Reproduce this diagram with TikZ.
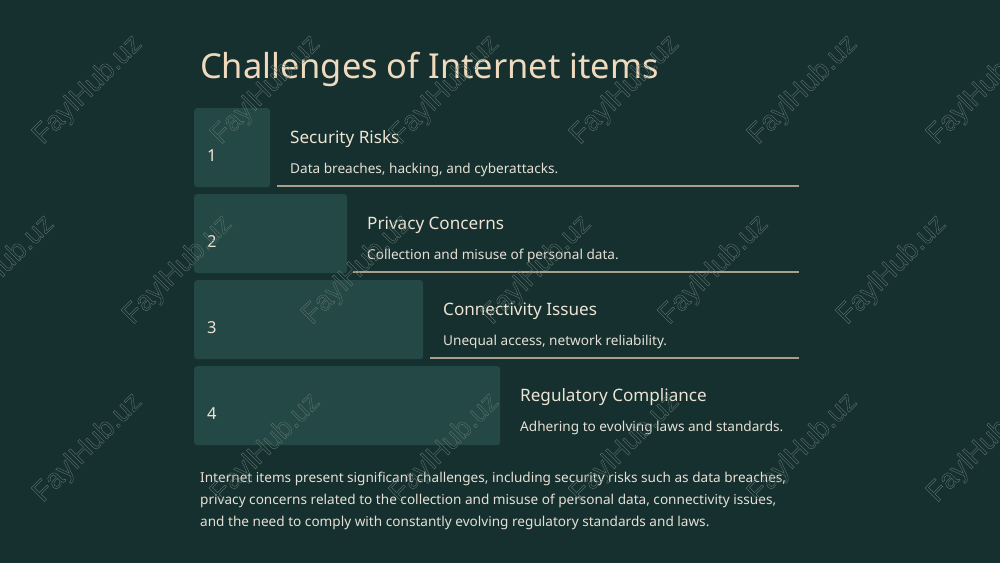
\documentclass[tikz,border=0pt]{standalone}
\usepackage{fontspec}
\setmainfont{Noto Sans}
\newfontfamily\wmfont{Liberation Sans}
\definecolor{bg}{HTML}{15302E}
\definecolor{boxc}{HTML}{234845}
\definecolor{titlec}{HTML}{F0DABE}
\definecolor{headc}{HTML}{EEE4D6}
\definecolor{textc}{HTML}{E6E0D6}
\definecolor{rulec}{HTML}{A89F8C}
\definecolor{wmc}{HTML}{647772}
\tikzset{
  numbox/.style={fill=boxc, rounded corners=3pt, anchor=north west, inner sep=0pt, minimum height=79pt},
  numtxt/.style={anchor=base west, inner sep=0pt, text=headc, font=\fontsize{16.5}{20}\selectfont},
  headtxt/.style={anchor=base west, inner sep=0pt, text=headc, font=\fontsize{17.1}{21}\selectfont},
  desctxt/.style={anchor=base west, inner sep=0pt, text=textc, font=\fontsize{13.6}{17}\selectfont},
  rowrule/.style={draw=rulec, line width=1.3pt},
  wmark/.style={rotate=45, inner sep=0pt, text=wmc, font=\wmfont\fontsize{28}{28}\selectfont}
}
\newcommand{\wmtext}{{\special{pdf:literal direct 1 Tr 0.35 w}FaylHub.uz\special{pdf:literal direct 0 Tr}}}
\begin{document}
\begin{tikzpicture}[x=1pt,y=-1pt]
\fill[bg] (0,0) rectangle (1000,563);
\useasboundingbox (0,0) rectangle (1000,563);

\node[anchor=base west, inner sep=0pt, text=titlec, font=\fontsize{34.4}{40}\selectfont] (title) at (200,78) {Challenges of Internet items};

% row 1
\node[numbox, minimum width=76pt] (b1) at (194,108) {};
\node[numtxt] (n1) at (207,161) {1};
\node[headtxt] (h1) at (290,143) {Security Risks};
\node[desctxt] (d1) at (290,173) {Data breaches, hacking, and cyberattacks.};
\coordinate (l1a) at (277,186); \coordinate (l1b) at (799,186);
\draw[rowrule] (l1a) -- (l1b);

% row 2
\node[numbox, minimum width=153pt] (b2) at (194,194) {};
\node[numtxt] (n2) at (207,247) {2};
\node[headtxt] (h2) at (367,229) {Privacy Concerns};
\node[desctxt] (d2) at (367,259) {Collection and misuse of personal data.};
\coordinate (l2a) at (353,272); \coordinate (l2b) at (799,272);
\draw[rowrule] (l2a) -- (l2b);

% row 3
\node[numbox, minimum width=229pt] (b3) at (194,280) {};
\node[numtxt] (n3) at (207,333) {3};
\node[headtxt] (h3) at (443,315) {Connectivity Issues};
\node[desctxt] (d3) at (443,345) {Unequal access, network reliability.};
\coordinate (l3a) at (430,358); \coordinate (l3b) at (799,358);
\draw[rowrule] (l3a) -- (l3b);

% row 4
\node[numbox, minimum width=306pt] (b4) at (194,366) {};
\node[numtxt] (n4) at (207,419) {4};
\node[headtxt] (h4) at (520,401) {Regulatory Compliance};
\node[desctxt] (d4) at (520,431) {Adhering to evolving laws and standards.};

% paragraph (base anchor = last line)
\node[anchor=base west, inner sep=0pt, text=textc, align=left, font=\fontsize{13.6}{22}\selectfont] (para) at (200,526)
{Internet items present significant challenges, including security risks such as data breaches,\\
privacy concerns related to the collection and misuse of personal data, connectivity issues,\\
and the need to comply with constantly evolving regulatory standards and laws.};

% watermarks
\foreach \x in {88,266,445,625,803,982} {
  \node[wmark] at (\x,90) {\wmtext};
  \node[wmark] at (\x,448) {\wmtext};
}
\foreach \x in {0,178,357,537,714,892} {
  \node[wmark] at (\x,270) {\wmtext};
}
\end{tikzpicture}
\end{document}
